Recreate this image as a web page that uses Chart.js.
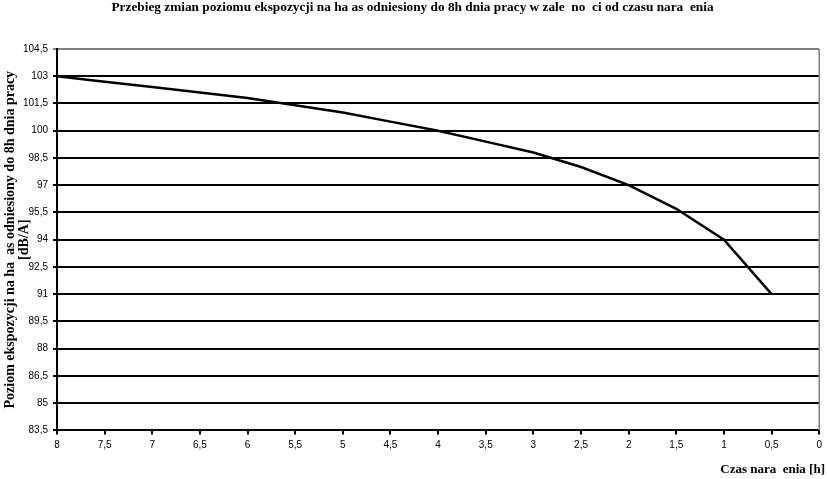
<!DOCTYPE html>
<html>
<head>
<meta charset="utf-8">
<script src="https://cdn.jsdelivr.net/npm/chart.js@4/dist/chart.umd.min.js"></script>
<style>
html,body{margin:0;padding:0;background:#fff;}
canvas{display:block;}
</style>
</head>
<body>
<canvas id="c" width="827" height="479"></canvas>
<script>
const hours = [8, 7.5, 7, 6.5, 6, 5.5, 5, 4.5, 4, 3.5, 3, 2.5, 2, 1.5, 1, 0.5];
const levels = [103, 102.7, 102.4, 102.1, 101.8, 101.4, 101.0, 100.5, 100, 99.4, 98.8, 98.0, 97, 95.7, 94, 91];
const titleText = "Przebieg zmian poziomu ekspozycji na ha as odniesiony do 8h dnia pracy w zale  no  ci od czasu nara  enia";
const yTitle = ["Poziom ekspozycji na ha  as odniesiony do 8h dnia pracy", "[dB/A]"];
const xTitle = "Czas nara  enia [h]";

const fmt = v => String(Math.round(v*10)/10).replace('.', ',');

const borderPlugin = {
  id: 'rightBorder',
  afterDatasetsDraw(chart) {
    const {ctx, chartArea: a} = chart;
    ctx.save();
    ctx.strokeStyle = '#808080';
    ctx.lineWidth = 1.5;
    ctx.beginPath();
    ctx.moveTo(a.right, a.top);
    ctx.lineTo(a.right, a.bottom);
    ctx.stroke();
    ctx.restore();
  }
};

new Chart(document.getElementById('c'), {
  type: 'line',
  data: {
    datasets: [{
      data: hours.map((h, i) => ({x: h, y: levels[i]})),
      borderColor: '#000',
      borderWidth: 2.5,
      pointRadius: 0,
      tension: 0,
      fill: false
    }]
  },
  options: {
    responsive: false,
    animation: false,
    layout: {padding: {left: 0, right: 2, top: 0, bottom: 0}},
    plugins: {
      legend: {display: false},
      tooltip: {enabled: false},
      title: {
        display: true,
        text: titleText,
        color: '#000',
        font: {family: 'Liberation Serif', size: 13.3, weight: 'bold'},
        padding: {top: 0, bottom: 33}
      },
      subtitle: {
        display: true,
        position: 'bottom',
        align: 'end',
        text: xTitle,
        color: '#000',
        font: {family: 'Liberation Serif', size: 13, weight: 'bold'},
        padding: {top: 1, bottom: 2}
      }
    },
    scales: {
      x: {
        type: 'linear',
        reverse: true,
        min: 0, max: 8,
        afterFit: s => { s.height = 30; },
        ticks: {stepSize: 0.5, callback: v => fmt(v), color: '#000', font: {family: 'Liberation Sans', size: 10}, padding: 5, maxRotation: 0, autoSkip: false},
        grid: {drawOnChartArea: false, drawTicks: true, tickLength: 4, color: '#000', lineWidth: 2},
        border: {color: '#000', width: 2}
      },
      y: {
        min: 83.5, max: 104.5,
        afterFit: s => { s.width = 57; },
        ticks: {stepSize: 1.5, callback: v => fmt(v), color: '#000', font: {family: 'Liberation Sans', size: 10}, padding: 5},
        grid: {
          color: ctx => (ctx.tick && ctx.tick.value === 104.5) ? '#808080' : '#000',
          lineWidth: 2, drawTicks: true, tickLength: 4
        },
        border: {color: '#000', width: 2},
        title: {display: true, text: yTitle, color: '#000', font: {family: 'Liberation Serif', size: 14, weight: 'bold', lineHeight: 1.0}, padding: {top: 3, bottom: 0}}
      }
    }
  },
  plugins: [borderPlugin]
});
</script>
</body>
</html>
